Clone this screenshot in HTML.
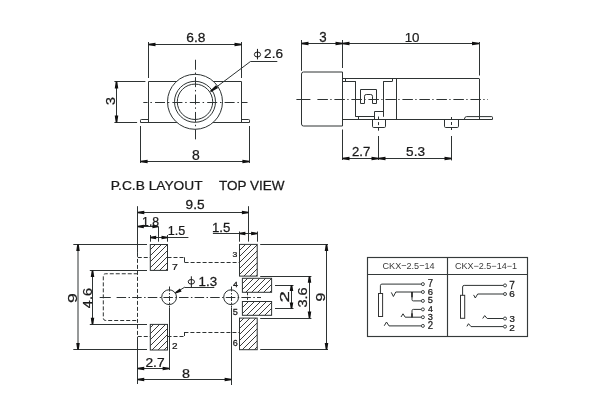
<!DOCTYPE html>
<html><head><meta charset="utf-8"><style>
html,body{margin:0;padding:0;background:#fff;}
svg{display:block;will-change:transform;}
</style></head><body>
<svg width="600" height="400" viewBox="0 0 600 400">
<defs><pattern id="hatch" patternUnits="userSpaceOnUse" width="6" height="6" patternTransform="translate(4,0)"><path d="M-1,1 L1,-1 M0,6 L6,0 M5,7 L7,5" stroke="#333" stroke-width="0.95"/></pattern></defs>
<rect width="600" height="400" fill="#fff"/>
<line x1="148.5" y1="42" x2="148.5" y2="78" stroke="#2e3333" stroke-width="1.0"/>
<line x1="241.5" y1="42" x2="241.5" y2="78" stroke="#2e3333" stroke-width="1.0"/>
<line x1="148.5" y1="44.5" x2="241.5" y2="44.5" stroke="#2e3333" stroke-width="1.0"/>
<polygon points="148.50,43.70 155.50,42.75 155.50,46.25 148.50,45.30" fill="#111" stroke="none"/>
<polygon points="241.50,45.30 234.50,46.25 234.50,42.75 241.50,43.70" fill="#111" stroke="none"/>
<text transform="translate(186.33,42.44) scale(1.048,1)" font-family='"Liberation Sans", sans-serif' font-size="13.17" fill="#1a1a1a" stroke="#1a1a1a" stroke-width="0.25">6.8</text>
<line x1="114.4" y1="81.5" x2="145.4" y2="81.5" stroke="#2e3333" stroke-width="1.0"/>
<line x1="148.5" y1="81.5" x2="241.5" y2="81.5" stroke="#2e3333" stroke-width="1.0"/>
<line x1="148.5" y1="81.5" x2="148.5" y2="122.4" stroke="#2e3333" stroke-width="1.0"/>
<line x1="241.5" y1="81.5" x2="241.5" y2="122.4" stroke="#2e3333" stroke-width="1.0"/>
<line x1="114.4" y1="122.5" x2="137.1" y2="122.5" stroke="#2e3333" stroke-width="1.0"/>
<path d="M140.5,122.5 L140.5,120.3 Q140.5,119.5 141.3,119.5 L148.5,119.5" fill="none" stroke="#2e3333" stroke-width="1.0"/>
<path d="M249.5,122.5 L249.5,120.3 Q249.5,119.5 248.7,119.5 L241.5,119.5" fill="none" stroke="#2e3333" stroke-width="1.0"/>
<line x1="140.5" y1="122.5" x2="249.5" y2="122.5" stroke="#2e3333" stroke-width="1.0"/>
<line x1="116.5" y1="81.5" x2="116.5" y2="122.5" stroke="#2e3333" stroke-width="1.0"/>
<polygon points="117.30,81.50 118.25,88.50 114.75,88.50 115.70,81.50" fill="#111" stroke="none"/>
<polygon points="115.70,122.50 114.75,115.50 118.25,115.50 117.30,122.50" fill="#111" stroke="none"/>
<text transform="translate(114.85,105.04) rotate(-90) scale(1.161,1)" font-family='"Liberation Sans", sans-serif' font-size="12.18" fill="#1a1a1a" stroke="#1a1a1a" stroke-width="0.25">3</text>
<circle cx="195" cy="101.8" r="27.5" fill="#fff" stroke="none"/>
<circle cx="195" cy="101.8" r="27.5" fill="none" stroke="#2e3333" stroke-width="1.0"/>
<circle cx="195" cy="101.8" r="20.5" fill="none" stroke="#2e3333" stroke-width="1.0"/>
<circle cx="195" cy="101.8" r="17.7" fill="none" stroke="#2e3333" stroke-width="1.0"/>
<line x1="143.3" y1="102.5" x2="247.5" y2="102.5" stroke="#2e3333" stroke-width="1.0" stroke-dasharray="10,2.8,1.5,3.1" stroke-dashoffset="5.7"/>
<line x1="195.5" y1="59.75" x2="195.5" y2="140.6" stroke="#2e3333" stroke-width="1.0" stroke-dasharray="10,2.8,1.5,3.1"/>
<line x1="250.6" y1="61.4" x2="210.6" y2="91.4" stroke="#2e3333" stroke-width="1.0"/>
<polygon points="210.12,90.76 215.95,85.20 218.05,88.00 211.08,92.04" fill="#111" stroke="none"/>
<line x1="250.6" y1="61.5" x2="277.3" y2="61.5" stroke="#2e3333" stroke-width="1.0"/>
<ellipse cx="257.475" cy="54.5" rx="3.125000000000014" ry="2.5" fill="none" stroke="#1a1a1a" stroke-width="1"/>
<line x1="257.475" y1="48.9" x2="257.475" y2="59.4" stroke="#1a1a1a" stroke-width="1"/>
<text transform="translate(264.10,58.34) scale(1.043,1)" font-family='"Liberation Sans", sans-serif' font-size="13.03" fill="#1a1a1a" stroke="#1a1a1a" stroke-width="0.25">2.6</text>
<line x1="140.5" y1="126" x2="140.5" y2="163" stroke="#2e3333" stroke-width="1.0"/>
<line x1="249.5" y1="126" x2="249.5" y2="163" stroke="#2e3333" stroke-width="1.0"/>
<line x1="140.6" y1="161.5" x2="249.4" y2="161.5" stroke="#2e3333" stroke-width="1.0"/>
<polygon points="140.60,160.70 147.60,159.75 147.60,163.25 140.60,162.30" fill="#111" stroke="none"/>
<polygon points="249.40,162.30 242.40,163.25 242.40,159.75 249.40,160.70" fill="#111" stroke="none"/>
<text transform="translate(192.10,159.74) scale(1.015,1)" font-family='"Liberation Sans", sans-serif' font-size="13.73" fill="#1a1a1a" stroke="#1a1a1a" stroke-width="0.25">8</text>
<line x1="301.5" y1="40" x2="301.5" y2="70.8" stroke="#2e3333" stroke-width="1.0"/>
<line x1="342.5" y1="40" x2="342.5" y2="68" stroke="#2e3333" stroke-width="1.0"/>
<line x1="301.5" y1="43.5" x2="479" y2="43.5" stroke="#2e3333" stroke-width="1.0"/>
<polygon points="301.50,42.70 308.50,41.75 308.50,45.25 301.50,44.30" fill="#111" stroke="none"/>
<polygon points="342.50,44.30 335.50,45.25 335.50,41.75 342.50,42.70" fill="#111" stroke="none"/>
<polygon points="342.50,42.70 349.50,41.75 349.50,45.25 342.50,44.30" fill="#111" stroke="none"/>
<polygon points="479.00,44.30 472.00,45.25 472.00,41.75 479.00,42.70" fill="#111" stroke="none"/>
<text transform="translate(319.34,41.74) scale(0.968,1)" font-family='"Liberation Sans", sans-serif' font-size="13.73" fill="#1a1a1a" stroke="#1a1a1a" stroke-width="0.25">3</text>
<text transform="translate(404.63,41.64) scale(0.980,1)" font-family='"Liberation Sans", sans-serif' font-size="13.59" fill="#1a1a1a" stroke="#1a1a1a" stroke-width="0.25">10</text>
<line x1="479.5" y1="42" x2="479.5" y2="75.5" stroke="#2e3333" stroke-width="1.0"/>
<path d="M342.5,72 L303.5,72 Q301.5,72 301.5,74 L301.5,124 Q301.5,126 303.5,126 L342.5,126 Z" fill="none" stroke="#2e3333" stroke-width="1.0"/>
<line x1="342.5" y1="78.5" x2="479" y2="78.5" stroke="#2e3333" stroke-width="1.0"/>
<line x1="342.5" y1="119.5" x2="492.5" y2="119.5" stroke="#2e3333" stroke-width="1.0"/>
<line x1="479.5" y1="78.5" x2="479.5" y2="119.4" stroke="#2e3333" stroke-width="1.0"/>
<line x1="342.5" y1="81.5" x2="355.7" y2="81.5" stroke="#2e3333" stroke-width="1.0"/>
<line x1="345.5" y1="78.5" x2="345.5" y2="81.2" stroke="#2e3333" stroke-width="1.0"/>
<line x1="355.5" y1="81.2" x2="355.5" y2="116.8" stroke="#2e3333" stroke-width="1.0"/>
<line x1="355.7" y1="116.5" x2="374.8" y2="116.5" stroke="#2e3333" stroke-width="1.0"/>
<line x1="358.5" y1="116.8" x2="358.5" y2="119.4" stroke="#2e3333" stroke-width="1.0"/>
<line x1="383.5" y1="81.2" x2="383.5" y2="116.8" stroke="#2e3333" stroke-width="1.0"/>
<line x1="383.5" y1="81.5" x2="392.5" y2="81.5" stroke="#2e3333" stroke-width="1.0"/>
<line x1="392.5" y1="78.5" x2="392.5" y2="81.2" stroke="#2e3333" stroke-width="1.0"/>
<line x1="396.5" y1="78.5" x2="396.5" y2="119.4" stroke="#2e3333" stroke-width="1.0"/>
<path d="M360.5,103.5 L360.5,89.5 L376.5,89.5 L376.5,103.5 L372.5,103.5 L372.5,96.3 Q372.5,94.5 370.7,94.5 L366.3,94.5 Q364.5,94.5 364.5,96.3 L364.5,103.5 Z" fill="none" stroke="#2e3333" stroke-width="1.0"/>
<path d="M374.5,119.5 L374.5,111.5 L383.5,111.5" fill="none" stroke="#2e3333" stroke-width="1.0"/>
<path d="M372.5,119.5 L372.5,126.3 Q372.5,127.5 373.7,127.5 L384.3,127.5 Q385.5,127.5 385.5,126.3 L385.5,119.5" fill="none" stroke="#2e3333" stroke-width="1.0"/>
<path d="M444.5,119.5 L444.5,126.3 Q444.5,127.5 445.7,127.5 L457.3,127.5 Q458.5,127.5 458.5,126.3 L458.5,119.5" fill="none" stroke="#2e3333" stroke-width="1.0"/>
<path d="M464.3,119.4 Q464.6,116.6 466.5,116.6 L491.8,116.6 Q492.5,116.6 492.5,117.4 L492.5,119.4" fill="none" stroke="#2e3333" stroke-width="1.0"/>
<line x1="296.4" y1="99.5" x2="310.4" y2="99.5" stroke="#2e3333" stroke-width="1.0"/>
<line x1="317.4" y1="99.5" x2="488" y2="99.5" stroke="#2e3333" stroke-width="1.0" stroke-dasharray="10.5,2.4,1.3,2.8"/>
<line x1="378.5" y1="116.5" x2="378.5" y2="132" stroke="#2e3333" stroke-width="1.0" stroke-dasharray="3,2.6"/>
<line x1="451.5" y1="117" x2="451.5" y2="131" stroke="#2e3333" stroke-width="1.0" stroke-dasharray="3,2"/>
<line x1="342.5" y1="129.5" x2="342.5" y2="160" stroke="#2e3333" stroke-width="1.0"/>
<line x1="378.5" y1="136" x2="378.5" y2="160" stroke="#2e3333" stroke-width="1.0"/>
<line x1="451.5" y1="136" x2="451.5" y2="160.4" stroke="#2e3333" stroke-width="1.0"/>
<line x1="342.5" y1="158.5" x2="451.4" y2="158.5" stroke="#2e3333" stroke-width="1.0"/>
<polygon points="342.50,157.70 349.50,156.75 349.50,160.25 342.50,159.30" fill="#111" stroke="none"/>
<polygon points="378.50,159.30 371.50,160.25 371.50,156.75 378.50,157.70" fill="#111" stroke="none"/>
<polygon points="378.50,157.70 385.50,156.75 385.50,160.25 378.50,159.30" fill="#111" stroke="none"/>
<polygon points="451.50,159.30 444.50,160.25 444.50,156.75 451.50,157.70" fill="#111" stroke="none"/>
<text transform="translate(351.97,156.38) scale(0.968,1)" font-family='"Liberation Sans", sans-serif' font-size="13.57" fill="#1a1a1a" stroke="#1a1a1a" stroke-width="0.25">2.7</text>
<text transform="translate(406.08,156.24) scale(1.017,1)" font-family='"Liberation Sans", sans-serif' font-size="13.38" fill="#1a1a1a" stroke="#1a1a1a" stroke-width="0.25">5.3</text>
<text transform="translate(110.72,189.74) scale(1.033,1)" font-family='"Liberation Sans", sans-serif' font-size="13.31" fill="#1a1a1a" stroke="#1a1a1a" stroke-width="0.25">P.C.B LAYOUT</text>
<text transform="translate(219.09,189.74) scale(1.004,1)" font-family='"Liberation Sans", sans-serif' font-size="13.45" fill="#1a1a1a" stroke="#1a1a1a" stroke-width="0.25">TOP VIEW</text>
<line x1="137.5" y1="206.2" x2="137.5" y2="252.9" stroke="#2e3333" stroke-width="1.0"/>
<line x1="248.5" y1="206.2" x2="248.5" y2="241.6" stroke="#2e3333" stroke-width="1.0"/>
<line x1="137.8" y1="212.5" x2="248.4" y2="212.5" stroke="#2e3333" stroke-width="1.0"/>
<polygon points="137.80,211.70 144.30,210.75 144.30,214.25 137.80,213.30" fill="#111" stroke="none"/>
<polygon points="248.40,213.30 241.90,214.25 241.90,210.75 248.40,211.70" fill="#111" stroke="none"/>
<text transform="translate(185.61,208.56) scale(1.149,1)" font-family='"Liberation Sans", sans-serif' font-size="11.90" fill="#1a1a1a" stroke="#1a1a1a" stroke-width="0.25">9.5</text>
<line x1="137.8" y1="226.5" x2="158.4" y2="226.5" stroke="#2e3333" stroke-width="1.0"/>
<polygon points="137.80,225.70 143.80,224.75 143.80,228.25 137.80,227.30" fill="#111" stroke="none"/>
<polygon points="158.40,227.30 152.40,228.25 152.40,224.75 158.40,225.70" fill="#111" stroke="none"/>
<line x1="158.5" y1="226.9" x2="158.5" y2="241.7" stroke="#2e3333" stroke-width="1.0"/>
<text transform="translate(142.11,225.51) scale(1.019,1)" font-family='"Liberation Sans", sans-serif' font-size="11.97" fill="#1a1a1a" stroke="#1a1a1a" stroke-width="0.25">1.8</text>
<line x1="150.5" y1="235" x2="150.5" y2="241.7" stroke="#2e3333" stroke-width="1.0"/>
<line x1="167.5" y1="235" x2="167.5" y2="241.7" stroke="#2e3333" stroke-width="1.0"/>
<line x1="150.2" y1="237.5" x2="188.4" y2="237.5" stroke="#2e3333" stroke-width="1.0"/>
<polygon points="150.20,236.70 156.20,235.75 156.20,239.25 150.20,238.30" fill="#111" stroke="none"/>
<polygon points="167.50,238.30 161.50,239.25 161.50,235.75 167.50,236.70" fill="#111" stroke="none"/>
<text transform="translate(167.78,235.45) scale(0.996,1)" font-family='"Liberation Sans", sans-serif' font-size="12.64" fill="#1a1a1a" stroke="#1a1a1a" stroke-width="0.25">1.5</text>
<line x1="239.5" y1="231.5" x2="239.5" y2="241.7" stroke="#2e3333" stroke-width="1.0"/>
<line x1="257.5" y1="231.5" x2="257.5" y2="241.7" stroke="#2e3333" stroke-width="1.0"/>
<line x1="212.9" y1="233.5" x2="257.1" y2="233.5" stroke="#2e3333" stroke-width="1.0"/>
<polygon points="239.40,232.70 245.40,231.75 245.40,235.25 239.40,234.30" fill="#111" stroke="none"/>
<polygon points="257.10,234.30 251.10,235.25 251.10,231.75 257.10,232.70" fill="#111" stroke="none"/>
<text transform="translate(212.03,232.34) scale(0.989,1)" font-family='"Liberation Sans", sans-serif' font-size="13.36" fill="#1a1a1a" stroke="#1a1a1a" stroke-width="0.25">1.5</text>
<rect x="150.3" y="244.5" width="17.19999999999999" height="25.899999999999977" fill="url(#hatch)" stroke="#2e3333" stroke-width="1"/>
<rect x="150.3" y="324.4" width="17.19999999999999" height="25.600000000000023" fill="url(#hatch)" stroke="#2e3333" stroke-width="1"/>
<rect x="239.5" y="244.4" width="17.69999999999999" height="31.700000000000017" fill="url(#hatch)" stroke="#2e3333" stroke-width="1"/>
<rect x="242.4" y="278.3" width="29.200000000000017" height="14.0" fill="url(#hatch)" stroke="#2e3333" stroke-width="1"/>
<rect x="242.4" y="301.5" width="29.200000000000017" height="13.800000000000011" fill="url(#hatch)" stroke="#2e3333" stroke-width="1"/>
<rect x="239.5" y="318.1" width="17.69999999999999" height="31.599999999999966" fill="url(#hatch)" stroke="#2e3333" stroke-width="1"/>
<line x1="73.3" y1="244.5" x2="147" y2="244.5" stroke="#2e3333" stroke-width="1.0"/>
<line x1="73.3" y1="349.5" x2="147" y2="349.5" stroke="#2e3333" stroke-width="1.0"/>
<line x1="78" y1="244.6" x2="78" y2="349.6" stroke="#2e3333" stroke-width="1.0"/>
<polygon points="78.80,244.60 79.75,251.10 76.25,251.10 77.20,244.60" fill="#111" stroke="none"/>
<polygon points="77.20,349.60 76.25,343.10 79.75,343.10 78.80,349.60" fill="#111" stroke="none"/>
<text transform="translate(77.14,303.06) rotate(-90) scale(1.324,1)" font-family='"Liberation Sans", sans-serif' font-size="13.24" fill="#1a1a1a" stroke="#1a1a1a" stroke-width="0.25">9</text>
<line x1="89.8" y1="270.5" x2="147" y2="270.5" stroke="#2e3333" stroke-width="1.0"/>
<line x1="89.8" y1="324.5" x2="147" y2="324.5" stroke="#2e3333" stroke-width="1.0"/>
<line x1="92.5" y1="270.6" x2="92.5" y2="324.3" stroke="#2e3333" stroke-width="1.0"/>
<polygon points="93.30,270.60 94.25,277.10 90.75,277.10 91.70,270.60" fill="#111" stroke="none"/>
<polygon points="91.70,324.30 90.75,317.80 94.25,317.80 93.30,324.30" fill="#111" stroke="none"/>
<text transform="translate(91.75,308.14) rotate(-90) scale(1.158,1)" font-family='"Liberation Sans", sans-serif' font-size="12.46" fill="#1a1a1a" stroke="#1a1a1a" stroke-width="0.25">4.6</text>
<path d="M137.75,273.75 L105.8,273.75 Q103.3,273.75 103.3,276.25 L103.3,318 Q103.3,320.5 105.8,320.5 L137.75,320.5" fill="none" stroke="#2e3333" stroke-width="1.0" stroke-dasharray="4,2"/>
<line x1="137.5" y1="252.9" x2="137.5" y2="340" stroke="#2e3333" stroke-width="1.0" stroke-dasharray="4,2"/>
<line x1="137.5" y1="340" x2="137.5" y2="384" stroke="#2e3333" stroke-width="1.0"/>
<line x1="137.75" y1="257.5" x2="150.3" y2="257.5" stroke="#2e3333" stroke-width="1.0" stroke-dasharray="4,2"/>
<line x1="167.5" y1="257.5" x2="184.6" y2="257.5" stroke="#2e3333" stroke-width="1.0" stroke-dasharray="4,2"/>
<line x1="184.5" y1="257.3" x2="184.5" y2="262.3" stroke="#2e3333" stroke-width="1.0"/>
<line x1="184.6" y1="262.5" x2="239.5" y2="262.5" stroke="#2e3333" stroke-width="1.0" stroke-dasharray="4,2"/>
<line x1="137.75" y1="336.5" x2="150.3" y2="336.5" stroke="#2e3333" stroke-width="1.0" stroke-dasharray="4,2"/>
<line x1="167.5" y1="336.5" x2="184.4" y2="336.5" stroke="#2e3333" stroke-width="1.0" stroke-dasharray="4,2"/>
<line x1="184.5" y1="336" x2="184.5" y2="332" stroke="#2e3333" stroke-width="1.0"/>
<line x1="184.4" y1="332.5" x2="239.5" y2="332.5" stroke="#2e3333" stroke-width="1.0" stroke-dasharray="4,2"/>
<line x1="99.7" y1="297.5" x2="110.75" y2="297.5" stroke="#2e3333" stroke-width="1.0"/>
<line x1="116.6" y1="297.5" x2="261" y2="297.5" stroke="#2e3333" stroke-width="1.0" stroke-dasharray="9.5,2.4,1.5,2.2"/>
<circle cx="169.1" cy="297.2" r="7.4" fill="none" stroke="#2e3333" stroke-width="1.0"/>
<circle cx="231.1" cy="297.2" r="7.4" fill="none" stroke="#2e3333" stroke-width="1.0"/>
<line x1="169.5" y1="286.5" x2="169.5" y2="307.5" stroke="#2e3333" stroke-width="1.0" stroke-dasharray="5,1.5,1.5,1.5"/>
<line x1="231.5" y1="286.5" x2="231.5" y2="307.5" stroke="#2e3333" stroke-width="1.0" stroke-dasharray="5,1.5,1.5,1.5"/>
<line x1="247.5" y1="292.3" x2="247.5" y2="301.5" stroke="#2e3333" stroke-width="1.0" stroke-dasharray="3,1.5"/>
<line x1="169.5" y1="307.6" x2="169.5" y2="370" stroke="#2e3333" stroke-width="1.0"/>
<line x1="231.5" y1="307.6" x2="231.5" y2="385" stroke="#2e3333" stroke-width="1.0"/>
<line x1="184.9" y1="287.05" x2="175.5" y2="292.9" stroke="#2e3333" stroke-width="1.0"/>
<polygon points="175.11,292.20 179.88,288.44 181.59,291.49 175.89,293.60" fill="#111" stroke="none"/>
<line x1="184.9" y1="287.5" x2="214.3" y2="287.5" stroke="#2e3333" stroke-width="1.0"/>
<ellipse cx="191.35" cy="281.8" rx="3.1500000000000057" ry="2.3000000000000114" fill="none" stroke="#1a1a1a" stroke-width="1"/>
<line x1="191.35" y1="276.3" x2="191.35" y2="287" stroke="#1a1a1a" stroke-width="1"/>
<text transform="translate(198.62,285.76) scale(1.115,1)" font-family='"Liberation Sans", sans-serif' font-size="11.97" fill="#1a1a1a" stroke="#1a1a1a" stroke-width="0.25">1.3</text>
<text transform="translate(171.90,270.18) scale(1.191,1)" font-family='"Liberation Sans", sans-serif' font-size="8.77" fill="#1a1a1a" stroke="#1a1a1a" stroke-width="0.25">7</text>
<text transform="translate(172.12,349.38) scale(1.037,1)" font-family='"Liberation Sans", sans-serif' font-size="9.64" fill="#1a1a1a" stroke="#1a1a1a" stroke-width="0.25">2</text>
<text transform="translate(232.48,257.40) scale(1.144,1)" font-family='"Liberation Sans", sans-serif' font-size="7.54" fill="#1a1a1a" stroke="#1a1a1a" stroke-width="0.25">3</text>
<text transform="translate(232.91,287.27) scale(1.166,1)" font-family='"Liberation Sans", sans-serif' font-size="7.46" fill="#1a1a1a" stroke="#1a1a1a" stroke-width="0.25">4</text>
<text transform="translate(232.76,314.79) scale(1.026,1)" font-family='"Liberation Sans", sans-serif' font-size="8.93" fill="#1a1a1a" stroke="#1a1a1a" stroke-width="0.25">5</text>
<text transform="translate(232.67,346.19) scale(1.042,1)" font-family='"Liberation Sans", sans-serif' font-size="8.66" fill="#1a1a1a" stroke="#1a1a1a" stroke-width="0.25">6</text>
<line x1="260.2" y1="244.5" x2="328" y2="244.5" stroke="#2e3333" stroke-width="1.0"/>
<line x1="260.2" y1="349.5" x2="328" y2="349.5" stroke="#2e3333" stroke-width="1.0"/>
<line x1="326.5" y1="244.6" x2="326.5" y2="349.6" stroke="#2e3333" stroke-width="1.0"/>
<polygon points="327.30,244.60 328.25,251.10 324.75,251.10 325.70,244.60" fill="#111" stroke="none"/>
<polygon points="325.70,349.60 324.75,343.10 328.25,343.10 327.30,349.60" fill="#111" stroke="none"/>
<text transform="translate(324.94,301.59) rotate(-90) scale(1.188,1)" font-family='"Liberation Sans", sans-serif' font-size="13.31" fill="#1a1a1a" stroke="#1a1a1a" stroke-width="0.25">9</text>
<line x1="260.2" y1="276.5" x2="311.4" y2="276.5" stroke="#2e3333" stroke-width="1.0"/>
<line x1="260.2" y1="318.5" x2="311.4" y2="318.5" stroke="#2e3333" stroke-width="1.0"/>
<line x1="309.5" y1="276.2" x2="309.5" y2="318.1" stroke="#2e3333" stroke-width="1.0"/>
<polygon points="310.30,276.20 311.25,282.70 307.75,282.70 308.70,276.20" fill="#111" stroke="none"/>
<polygon points="308.70,318.10 307.75,311.60 311.25,311.60 310.30,318.10" fill="#111" stroke="none"/>
<text transform="translate(307.04,307.56) rotate(-90) scale(1.091,1)" font-family='"Liberation Sans", sans-serif' font-size="13.31" fill="#1a1a1a" stroke="#1a1a1a" stroke-width="0.25">3.6</text>
<line x1="275" y1="285.5" x2="293.5" y2="285.5" stroke="#2e3333" stroke-width="1.0"/>
<line x1="275" y1="308.5" x2="293.5" y2="308.5" stroke="#2e3333" stroke-width="1.0"/>
<line x1="291.5" y1="285.1" x2="291.5" y2="308.5" stroke="#2e3333" stroke-width="1.0"/>
<polygon points="292.30,285.10 293.25,291.10 289.75,291.10 290.70,285.10" fill="#111" stroke="none"/>
<polygon points="290.70,308.50 289.75,302.50 293.25,302.50 292.30,308.50" fill="#111" stroke="none"/>
<text transform="translate(288.57,302.50) rotate(-90) scale(1.653,1)" font-family='"Liberation Sans", sans-serif' font-size="12.43" fill="#1a1a1a" stroke="#1a1a1a" stroke-width="0.25">2</text>
<line x1="137.75" y1="368.5" x2="169.1" y2="368.5" stroke="#2e3333" stroke-width="1.0"/>
<polygon points="137.75,367.70 144.25,366.75 144.25,370.25 137.75,369.30" fill="#111" stroke="none"/>
<polygon points="169.10,369.30 162.60,370.25 162.60,366.75 169.10,367.70" fill="#111" stroke="none"/>
<text transform="translate(145.44,367.48) scale(1.154,1)" font-family='"Liberation Sans", sans-serif' font-size="11.93" fill="#1a1a1a" stroke="#1a1a1a" stroke-width="0.25">2.7</text>
<line x1="137.75" y1="379.5" x2="231.1" y2="379.5" stroke="#2e3333" stroke-width="1.0"/>
<polygon points="137.75,378.70 144.25,377.75 144.25,381.25 137.75,380.30" fill="#111" stroke="none"/>
<polygon points="231.10,380.30 224.60,381.25 224.60,377.75 231.10,378.70" fill="#111" stroke="none"/>
<text transform="translate(181.88,377.75) scale(1.165,1)" font-family='"Liberation Sans", sans-serif' font-size="12.32" fill="#1a1a1a" stroke="#1a1a1a" stroke-width="0.25">8</text>
<rect x="367.5" y="257.5" width="160" height="79" fill="none" stroke="#353a3a" stroke-width="1.15"/>
<line x1="367.5" y1="274.5" x2="527.5" y2="274.5" stroke="#353a3a" stroke-width="1.15"/>
<line x1="447.5" y1="257.5" x2="447.5" y2="336.5" stroke="#353a3a" stroke-width="1.15"/>
<text transform="translate(382.55,268.75) scale(0.956,1)" font-family='"Liberation Sans", sans-serif' font-size="9.51" fill="#3a3a3a" stroke="#3a3a3a" stroke-width="0">CKX−2.5−14</text>
<text transform="translate(454.95,268.51) scale(1.004,1)" font-family='"Liberation Sans", sans-serif' font-size="9.01" fill="#3a3a3a" stroke="#3a3a3a" stroke-width="0">CKX−2.5−14−1</text>
<rect x="378.5" y="293.5" width="4.1" height="23" fill="none" stroke="#333" stroke-width="1"/>
<path d="M380.4,293.5 L380.4,285.6 Q380.4,284.1 381.9,284.1 L421.4,284.1" fill="none" stroke="#2e3333" stroke-width="1.0"/>
<path d="M391.3,292.4 L393.4,296.5 L395.8,292 L421.4,292" fill="none" stroke="#2e3333" stroke-width="1.0"/>
<line x1="412" y1="292" x2="412" y2="297.2" stroke="#111" stroke-width="1.6"/>
<path d="M412,297 L412,299.6 Q412,300.9 413.3,300.9 L421.4,300.9" fill="none" stroke="#2e3333" stroke-width="1.0"/>
<path d="M421.4,309.4 L413.3,309.4 Q412,309.4 412,310.7 L412,313.5" fill="none" stroke="#2e3333" stroke-width="1.0"/>
<line x1="412" y1="313.2" x2="412" y2="317.4" stroke="#111" stroke-width="1.6"/>
<path d="M401,317 L403,313.8 L405.2,317.2 L421.4,317.2" fill="none" stroke="#2e3333" stroke-width="1.0"/>
<path d="M384.25,325.75 L386.5,322 L389,325.9 L421.4,325.9" fill="none" stroke="#2e3333" stroke-width="1.0"/>
<circle cx="422.9" cy="284.1" r="1.5" fill="#fff" stroke="#2e3333" stroke-width="0.9"/>
<circle cx="422.9" cy="292" r="1.5" fill="#fff" stroke="#2e3333" stroke-width="0.9"/>
<circle cx="422.9" cy="300.9" r="1.5" fill="#fff" stroke="#2e3333" stroke-width="0.9"/>
<circle cx="422.9" cy="309.4" r="1.5" fill="#fff" stroke="#2e3333" stroke-width="0.9"/>
<circle cx="422.9" cy="317.2" r="1.5" fill="#fff" stroke="#2e3333" stroke-width="0.9"/>
<circle cx="422.9" cy="325.9" r="1.5" fill="#fff" stroke="#2e3333" stroke-width="0.9"/>
<text transform="translate(427.75,287.07) scale(0.936,1)" font-family='"Liberation Sans", sans-serif' font-size="10.22" fill="#1a1a1a" stroke="#1a1a1a" stroke-width="0.25">7</text>
<text transform="translate(427.75,295.38) scale(1.041,1)" font-family='"Liberation Sans", sans-serif' font-size="9.08" fill="#1a1a1a" stroke="#1a1a1a" stroke-width="0.25">6</text>
<text transform="translate(427.86,303.09) scale(1.060,1)" font-family='"Liberation Sans", sans-serif' font-size="8.64" fill="#1a1a1a" stroke="#1a1a1a" stroke-width="0.25">5</text>
<text transform="translate(428.01,311.57) scale(0.889,1)" font-family='"Liberation Sans", sans-serif' font-size="9.78" fill="#1a1a1a" stroke="#1a1a1a" stroke-width="0.25">4</text>
<text transform="translate(427.85,319.89) scale(1.086,1)" font-family='"Liberation Sans", sans-serif' font-size="8.52" fill="#1a1a1a" stroke="#1a1a1a" stroke-width="0.25">3</text>
<text transform="translate(427.75,328.77) scale(0.936,1)" font-family='"Liberation Sans", sans-serif' font-size="10.21" fill="#1a1a1a" stroke="#1a1a1a" stroke-width="0.25">2</text>
<rect x="460.5" y="295.3" width="4.2" height="23" fill="none" stroke="#333" stroke-width="1"/>
<path d="M462.6,295.3 L462.6,287 Q462.6,285.4 464.2,285.4 L503.5,285.4" fill="none" stroke="#2e3333" stroke-width="1.0"/>
<path d="M473.6,294.9 L475.3,298 L477.7,294 L503.5,294" fill="none" stroke="#2e3333" stroke-width="1.0"/>
<path d="M482.7,318.5 L484.7,315.6 L487.2,318.5 L503.5,318.5" fill="none" stroke="#2e3333" stroke-width="1.0"/>
<path d="M466.9,326.4 L468.5,323.7 L471,326.6 L503.5,326.6" fill="none" stroke="#2e3333" stroke-width="1.0"/>
<circle cx="505" cy="285.4" r="1.5" fill="#fff" stroke="#2e3333" stroke-width="0.9"/>
<circle cx="505" cy="294" r="1.5" fill="#fff" stroke="#2e3333" stroke-width="0.9"/>
<circle cx="505" cy="318.5" r="1.5" fill="#fff" stroke="#2e3333" stroke-width="0.9"/>
<circle cx="505" cy="326.6" r="1.5" fill="#fff" stroke="#2e3333" stroke-width="0.9"/>
<text transform="translate(509.32,289.38) scale(0.879,1)" font-family='"Liberation Sans", sans-serif' font-size="11.38" fill="#1a1a1a" stroke="#1a1a1a" stroke-width="0.25">7</text>
<text transform="translate(509.33,296.69) scale(1.200,1)" font-family='"Liberation Sans", sans-serif' font-size="8.24" fill="#1a1a1a" stroke="#1a1a1a" stroke-width="0.25">6</text>
<text transform="translate(509.44,322.38) scale(1.049,1)" font-family='"Liberation Sans", sans-serif' font-size="9.23" fill="#1a1a1a" stroke="#1a1a1a" stroke-width="0.25">3</text>
<text transform="translate(509.32,330.57) scale(1.085,1)" font-family='"Liberation Sans", sans-serif' font-size="9.21" fill="#1a1a1a" stroke="#1a1a1a" stroke-width="0.25">2</text>
</svg>
</body></html>
